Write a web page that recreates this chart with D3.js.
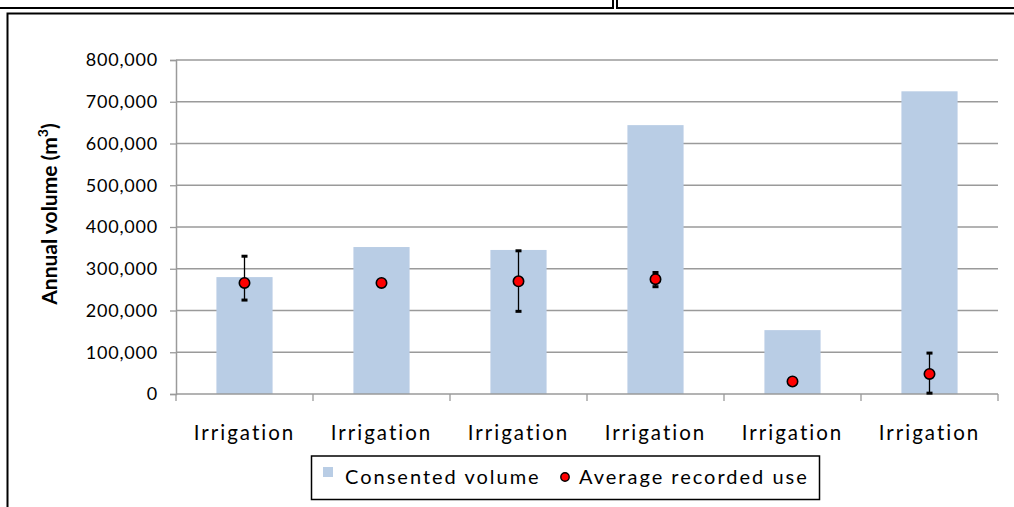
<!DOCTYPE html>
<html>
<head>
<meta charset="utf-8">
<script src="https://cdn.jsdelivr.net/npm/d3@7"></script>
<style>
  html, body { margin: 0; padding: 0; background: #fff; }
  svg { display: block; font-family: Lato, "Open Sans", sans-serif; }
</style>
</head>
<body>
<svg id="chart" width="1014" height="507"></svg>
<script>
// ---- Data ----
const categories = ["Irrigation", "Irrigation", "Irrigation", "Irrigation", "Irrigation", "Irrigation"];
const consentedVolume = [280000, 352000, 345000, 644000, 153000, 725000];
const averageRecordedUse = [266000, 266000, 270000, 275000, 30000, 48000];
const errorUpper = [330000, null, 343000, 291000, null, 98000];
const errorLower = [225000, null, 198000, 257000, null, 2000];
const yTicks = [0, 100000, 200000, 300000, 400000, 500000, 600000, 700000, 800000];
const seriesNames = ["Consented volume", "Average recorded use"];

(function () {
const svg = d3.select("#chart");

// outer decoration (document table borders)
svg.append("path").attr("d", "M0,8H613V0").attr("fill", "none").attr("stroke", "#000").attr("stroke-width", 2);
svg.append("path").attr("d", "M617,0V8H1014").attr("fill", "none").attr("stroke", "#000").attr("stroke-width", 2);
// chart frame
svg.append("path").attr("d", "M7.5,507V13.5H1014").attr("fill", "none").attr("stroke", "#000").attr("stroke-width", 2);

const mLeft = 176, mRight = 998, mTop = 60, mBottom = 394;

const x = d3.scaleBand().domain(d3.range(categories.length)).range([mLeft, mRight]).padding(0);
const y = d3.scaleLinear().domain([0, 800000]).range([mBottom, mTop]);

// grid lines
svg.append("g").selectAll("line").data(yTicks.filter(d => d > 0)).join("line")
  .attr("x1", mLeft).attr("x2", mRight)
  .attr("y1", d => y(d)).attr("y2", d => y(d))
  .attr("stroke", "#9a9a9a").attr("stroke-width", 1.3);

// y axis
const yAxis = svg.append("g").attr("transform", `translate(${mLeft},0)`)
  .call(d3.axisLeft(y).tickValues(yTicks).tickSize(6).tickPadding(12)
    .tickFormat(d3.format(",")));
yAxis.select(".domain").attr("stroke", "#9a9a9a").attr("stroke-width", 1.5);
yAxis.selectAll(".tick line").attr("stroke", "#9a9a9a").attr("stroke-width", 1.3);
yAxis.selectAll(".tick text").attr("font-size", 18).attr("fill", "#000")
  .attr("font-family", "Lato, sans-serif").style("letter-spacing", "0.8px");

// bars
const barFrac = 0.41;
const bw = x.bandwidth() * barFrac;
svg.append("g").selectAll("rect").data(consentedVolume).join("rect")
  .attr("x", (d, i) => x(i) + (x.bandwidth() - bw) / 2)
  .attr("width", bw)
  .attr("y", d => y(d))
  .attr("height", d => y(0) - y(d))
  .attr("fill", "#b9cde5");

// x axis
const xAxis = svg.append("g").attr("transform", `translate(0,${mBottom})`);
xAxis.append("line").attr("x1", mLeft).attr("x2", mRight).attr("y1", 0).attr("y2", 0)
  .attr("stroke", "#9a9a9a").attr("stroke-width", 1.5);
const bounds = d3.range(categories.length + 1).map(i => i < categories.length ? x(i) : mRight);
xAxis.selectAll("line.tk").data(bounds).join("line").attr("class", "tk")
  .attr("x1", d => d).attr("x2", d => d).attr("y1", 0).attr("y2", 7)
  .attr("stroke", "#9a9a9a").attr("stroke-width", 1.3);
xAxis.selectAll("text").data(categories).join("text")
  .attr("x", (d, i) => x(i) + x.bandwidth() / 2)
  .attr("y", 46)
  .attr("text-anchor", "middle")
  .attr("font-size", 20.5)
  .style("letter-spacing", "2px")
  .text(d => d);

// error bars
const eg = svg.append("g");
averageRecordedUse.forEach((v, i) => {
  if (errorUpper[i] == null) return;
  const cx = x(i) + x.bandwidth() / 2;
  eg.append("line").attr("x1", cx).attr("x2", cx)
    .attr("y1", y(errorUpper[i])).attr("y2", y(errorLower[i]))
    .attr("stroke", "#000").attr("stroke-width", 1.3);
  [errorUpper[i], errorLower[i]].forEach(e => {
    eg.append("rect").attr("x", cx - 3).attr("y", y(e) - 1.5)
      .attr("width", 6).attr("height", 3).attr("fill", "#000");
  });
});

// points
svg.append("g").selectAll("circle").data(averageRecordedUse).join("circle")
  .attr("cx", (d, i) => x(i) + x.bandwidth() / 2)
  .attr("cy", d => y(d))
  .attr("r", 5.2)
  .attr("fill", "#ff0000")
  .attr("stroke", "#000").attr("stroke-width", 1.6);

// y axis title
const yt = svg.append("text")
  .attr("transform", "translate(57,214) rotate(-90)")
  .attr("text-anchor", "middle")
  .attr("font-size", 21).attr("font-weight", "bold");
yt.append("tspan").text("Annual volume (m");
yt.append("tspan").attr("dy", -9).attr("font-size", 14).text("3");
yt.append("tspan").attr("dy", 9).text(")");

// legend
const lg = svg.append("g");
lg.append("rect").attr("x", 311.5).attr("y", 456).attr("width", 508).attr("height", 43.5)
  .attr("fill", "#fff").attr("stroke", "#000").attr("stroke-width", 1.5);
lg.append("rect").attr("x", 323).attr("y", 467).attr("width", 10).attr("height", 10).attr("fill", "#b9cde5");
lg.append("text").attr("x", 345).attr("y", 484).attr("font-size", 20)
  .style("letter-spacing", "2px").text(seriesNames[0]);
lg.append("circle").attr("cx", 565).attr("cy", 477).attr("r", 4.2)
  .attr("fill", "#ff0000").attr("stroke", "#000").attr("stroke-width", 1.4);
lg.append("text").attr("x", 579).attr("y", 484).attr("font-size", 20)
  .style("letter-spacing", "2px").text(seriesNames[1]);
})();
</script>
</body>
</html>
